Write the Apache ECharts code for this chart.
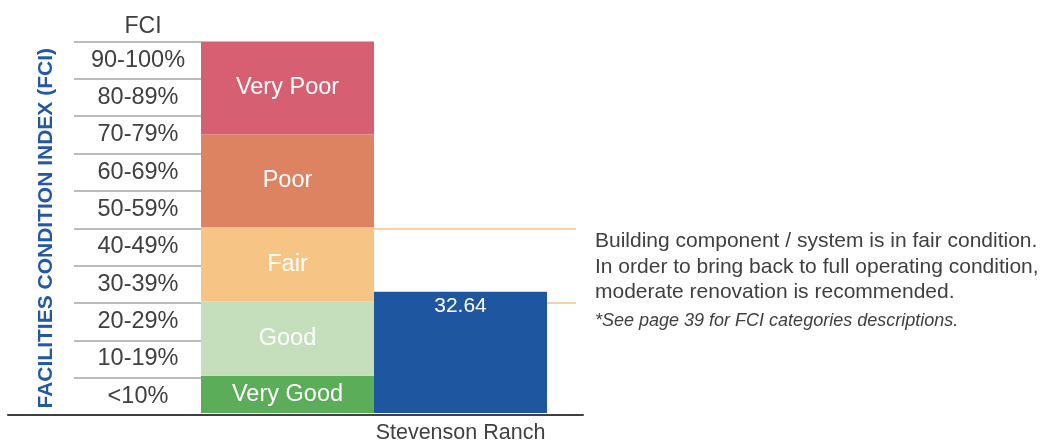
<!DOCTYPE html>
<html>
<head>
<meta charset="utf-8">
<script src="https://cdn.jsdelivr.net/npm/echarts@6/dist/echarts.min.js"></script>
<style>html,body{margin:0;padding:0;background:#fff;}#c{width:1047px;height:444px;}</style>
</head>
<body>
<div id="c"></div>
<script>
var fciRows = ['<10%','10-19%','20-29%','30-39%','40-49%','50-59%','60-69%','70-79%','80-89%','90-100%'];
var categories = ['', 'Stevenson Ranch'];
var bandNames = ['Very Good','Good','Fair','Poor','Very Poor'];
var bandSizes = [10, 20, 20, 25, 25];
var bandColors = ['#5BAD59','#C5DFBC','#F6C585','#DD8361','#D75F72'];
var fciValue = [32.64];
var fairBounds = [50, 30];
var noteLines = [
  'Building component / system is in fair condition.',
  'In order to bring back to full operating condition,',
  'moderate renovation is recommended.'
];
var footNote = '*See page 39 for FCI categories descriptions.';

var FONT = '"Liberation Sans", Arial, sans-serif';
var TOP = 41.5, H = 373.5;

var chart = echarts.init(document.getElementById('c'));

var series = bandNames.map(function (n, i) {
  return {
    name: n, type: 'bar', stack: 'fci', xAxisIndex: 1, yAxisIndex: 1,
    barWidth: '100%', barGap: '-100%', barCategoryGap: '0%',
    data: [bandSizes[i], '-'],
    itemStyle: { color: bandColors[i] },
    label: { show: true, position: 'inside', formatter: '{a}', color: '#fff', fontSize: 23.5, fontFamily: FONT },
    silent: true, z: 10
  };
});
series.push({
  name: 'FCI', type: 'bar', xAxisIndex: 1, yAxisIndex: 1,
  barWidth: '100%', barGap: '-100%',
  data: ['-'].concat(fciValue),
  itemStyle: { color: '#1F56A0' },
  label: { show: true, position: 'insideTop', distance: 4, color: '#fff', fontSize: 21, fontFamily: FONT },
  silent: true, z: 10
});
series.push({
  name: 'fairLines', type: 'line', xAxisIndex: 2, yAxisIndex: 2, data: [],
  z: 1, silent: true,
  markLine: {
    z: 1,
    symbol: 'none', silent: true, animation: false,
    label: { show: false },
    lineStyle: { color: '#F6C27F', width: 1.5, type: 'solid' },
    data: fairBounds.map(function (v) { return { yAxis: v }; })
  }
});

chart.setOption({
  animation: false,
  title: {
    text: 'FCI', left: 138, top: 10, textAlign: 'center',
    textStyle: { fontSize: 23, fontWeight: 'normal', color: '#404040', fontFamily: FONT }
  },
  grid: [
    { left: 74, width: 127, top: TOP, height: H },
    { left: 201, width: 346, top: TOP, height: H },
    { left: 374, width: 202, top: TOP, height: H },
    { left: 8, width: 575, top: TOP, height: H }
  ],
  xAxis: [
    { gridIndex: 0, type: 'value', show: false },
    { gridIndex: 1, type: 'category', data: categories,
      axisLine: { show: false }, axisTick: { show: false },
      axisLabel: { show: true, interval: 0, color: '#404040', fontSize: 21.5, fontFamily: FONT, margin: 9 } },
    { gridIndex: 2, type: 'value', show: false, min: 0, max: 1 },
    { gridIndex: 3, type: 'value', min: 0, max: 1,
      axisLine: { show: true, lineStyle: { color: '#404040', width: 2 } },
      axisTick: { show: false }, axisLabel: { show: false }, splitLine: { show: false } }
  ],
  yAxis: [
    { gridIndex: 0, type: 'category', data: fciRows, boundaryGap: true,
      axisLine: { show: false }, axisTick: { show: false },
      axisLabel: { inside: true, margin: 64, align: 'center', color: '#404040', fontSize: 23.5, fontFamily: FONT },
      splitLine: { show: true, lineStyle: { color: '#A6A6A6', width: 1.5 } },
      name: 'FACILITIES CONDITION INDEX (FCI)', nameLocation: 'middle', nameRotate: 90, nameGap: 17,
      nameTextStyle: { color: '#2358A6', fontSize: 21, fontWeight: 'bold', fontFamily: FONT } },
    { gridIndex: 1, type: 'value', min: 0, max: 100, show: false },
    { gridIndex: 2, type: 'value', min: 0, max: 100, show: false },
    { gridIndex: 3, type: 'value', min: 0, max: 100, show: false }
  ],
  graphic: noteLines.map(function (t, i) {
    return { type: 'text', left: 595, top: 231 + i * 25.5,
      style: { text: t, fill: '#404040', font: '21px ' + FONT } };
  }).concat([{ type: 'text', left: 595, top: 312,
      style: { text: footNote, fill: '#404040', font: 'italic 18px ' + FONT } }]),
  series: series
});
</script>
</body>
</html>
